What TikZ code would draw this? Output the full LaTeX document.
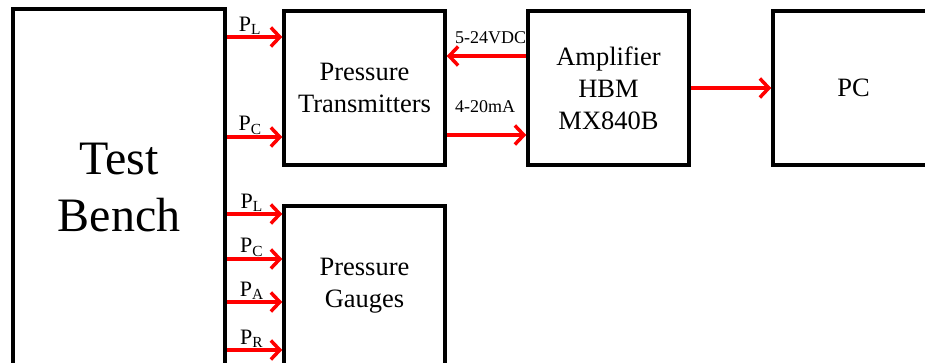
\documentclass[tikz,border=0pt]{standalone}
\usepackage{fontspec}
\setmainfont{Liberation Serif}
\usetikzlibrary{arrows.meta}
\begin{document}
\begin{tikzpicture}[x=1pt,y=-1pt,
  blk/.style={draw=black,fill=white,line width=3.5pt,rectangle,inner sep=0pt,align=center,
    font=\fontsize{26.5}{32}\selectfont},
  arr/.style={draw=red,line width=3.5pt,-{Straight Barb[length=9pt,width=19pt,line width=3.5pt]}},
  lbl/.style={font=\fontsize{22}{24}\selectfont,inner sep=1pt},
  sml/.style={font=\fontsize{18}{20}\selectfont,inner sep=0pt}]
\useasboundingbox (0,0) rectangle (925,362);
\clip (0,0) rectangle (925,362);
\node[sml,anchor=base west] (v) at (455,43) {5-24VDC};
\node[sml,anchor=base west] (ma) at (455,112) {4-20mA};
\node[blk,minimum width=212,minimum height=358,font=\fontsize{48}{57}\selectfont] (tb) at (119,188) {Test\\Bench};
\node[blk,minimum width=161,minimum height=154] (pt) at (364.5,88) {Pressure\\Transmitters};
\node[blk,minimum width=161,minimum height=160] (pg) at (364.5,286) {Pressure\\Gauges};
\node[blk,minimum width=161,minimum height=154] (amp) at (608.5,88) {Amplifier\\HBM\\MX840B};
\node[blk,minimum width=161,minimum height=154] (pc) at (853.5,88) {PC};
% test bench to transmitters
\draw[arr] (tb.east |- 0,37) -- node[lbl,above,pos=0.42] {P\textsubscript{L}} (pt.west |- 0,37);
\draw[arr] (tb.east |- 0,137) -- node[lbl,above,pos=0.42] {P\textsubscript{C}} (pt.west |- 0,137);
% test bench to gauges
\draw[arr] (tb.east |- 0,214) -- node[lbl,above,pos=0.45] {P\textsubscript{L}} (pg.west |- 0,214);
\draw[arr] (tb.east |- 0,259) -- node[lbl,above,pos=0.45] {P\textsubscript{C}} (pg.west |- 0,259);
\draw[arr] (tb.east |- 0,302) -- node[lbl,above,pos=0.45] {P\textsubscript{A}} (pg.west |- 0,302);
\draw[arr] (tb.east |- 0,350) -- node[lbl,above,pos=0.45] {P\textsubscript{R}} (pg.west |- 0,350);
% transmitters <-> amplifier
\draw[arr] (amp.west |- 0,56) -- (pt.east |- 0,56);
\draw[arr] (pt.east |- 0,135) -- (amp.west |- 0,135);
% amplifier to pc
\draw[arr] (amp.east) -- (pc.west);
\end{tikzpicture}
\end{document}
